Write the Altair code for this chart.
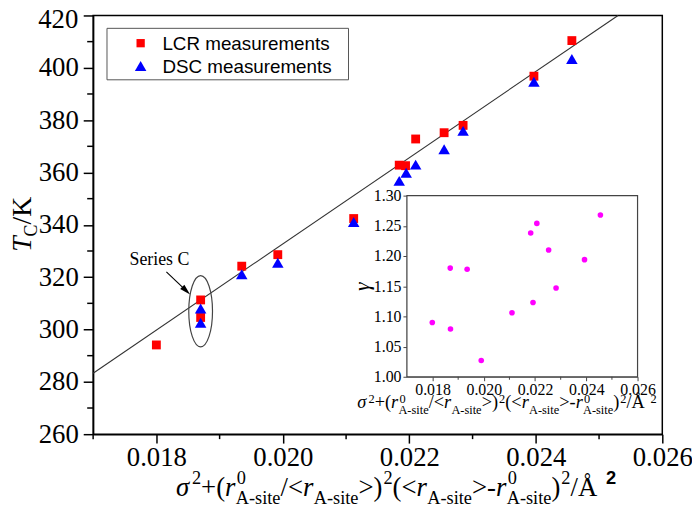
import altair as alt
import pandas as pd

# ---------------- data ----------------
lcr_x = [0.01800, 0.01870, 0.01870, 0.01935, 0.01992, 0.02112, 0.02184, 0.02194,
         0.02210, 0.02255, 0.02285, 0.02397, 0.02457]
lcr_t = [294.1, 311.3, 304.6, 324.2, 328.6, 342.4, 362.8, 362.6,
         372.8, 375.2, 378.0, 396.8, 410.4]
dsc_x = [0.01870, 0.01870, 0.01935, 0.01992, 0.02112, 0.02184, 0.02195,
         0.02210, 0.02255, 0.02285, 0.02397, 0.02457]
dsc_t = [308.0, 302.6, 321.1, 325.5, 341.1, 356.8, 359.9,
         363.0, 368.9, 375.9, 394.7, 403.4]
fit_x = [0.0170, 0.0253]
fit_t = [283.3, 420.0]
gamma_x = [0.01799, 0.01869, 0.01870, 0.01935, 0.01990, 0.02110, 0.02183,
           0.02192, 0.02207, 0.02253, 0.02282, 0.02393, 0.02455]
gamma_y = [1.090, 1.180, 1.079, 1.178, 1.027, 1.106, 1.238,
           1.123, 1.254, 1.210, 1.147, 1.194, 1.268]
seriesC_x = [0.0187]
seriesC_t = [307.0]

x_ticks = [0.018, 0.020, 0.022, 0.024, 0.026]
x_minor = [0.017, 0.019, 0.021, 0.023, 0.025]
y_ticks = [260, 280, 300, 320, 340, 360, 380, 400, 420]
y_minor = [270, 290, 310, 330, 350, 370, 390, 410]
g_ticks = [1.00, 1.05, 1.10, 1.15, 1.20, 1.25, 1.30]

# ---------------- layout (page pixels) ----------------
PAGE = 8
PL, PT = 94, 13
W, H = 575, 423
SERIF = "Liberation Serif"
SANS = "Liberation Sans"


def px(v):
    return v - PL


def py(v):
    return v - PT


one = alt.Data(values=[{}])

W_REG = {'0': 0.5, '2': 0.5, '+': 0.564, '(': 0.333, ')': 0.333, '/': 0.278, '<': 0.564,
         '>': 0.564, '-': 0.333, 'Å': 0.722, 'A': 0.722, 's': 0.389, 'i': 0.278,
         't': 0.278, 'e': 0.444, 'C': 0.667, 'K': 0.722, ' ': 0.25}
W_IT = {'σ': 0.56, 'r': 0.40, 'T': 0.556, 'γ': 0.45}


def wid(t, size, it=False):
    tab = W_IT if it else W_REG
    return sum(tab.get(c, W_REG.get(c, 0.5)) for c in t) * size


def txt(s, xp, yp, size, italic=False, font=SERIF, weight="normal", angle=0,
        align="left", baseline="alphabetic", color="black"):
    return alt.Chart(one).mark_text(
        text=s, font=font, fontSize=size, fontStyle="italic" if italic else "normal",
        fontWeight=weight, angle=angle, align=align, baseline=baseline, color=color
    ).encode(x=alt.value(px(xp)), y=alt.value(py(yp)))


def compose(spec, F, s, sub_dy, sup_dy, center, base, rotated=False):
    items = []
    pos = 0.0
    for seg in spec:
        k = seg[0]
        if k in ("rm", "it"):
            items.append((seg[1], pos, 0, F, k == "it", SERIF, "normal"))
            pos += wid(seg[1], F, k == "it")
        elif k == "sup":
            items.append((seg[1], pos + 1, sup_dy, s, False, SERIF, "normal"))
            pos += wid(seg[1], s) + 1
        elif k == "supb":
            items.append((seg[1], pos + 2, sup_dy, s, False, SANS, "bold"))
            pos += 0.556 * s + 2
        elif k == "sub":
            items.append((seg[1], pos, sub_dy, s, False, SERIF, "normal"))
            pos += wid(seg[1], s)
        elif k == "supsub":
            items.append((seg[1], pos + 1, sup_dy, s, False, SERIF, "normal"))
            items.append((seg[2], pos, sub_dy, s, False, SERIF, "normal"))
            pos += max(wid(seg[1], s) + 1, wid(seg[2], s))
    start = center - pos / 2 if not rotated else center + pos / 2
    layers = []
    for (t, p, dy, size, it, font, wt) in items:
        if rotated:
            layers.append(txt(t, base + dy, start - p, size, it, font, wt, angle=270))
        else:
            layers.append(txt(t, start + p, base + dy, size, it, font, wt))
    return layers


xtitle_spec = [("it", "σ"), ("sup", "2"), ("rm", "+("), ("it", "r"), ("supsub", "0", "A-site"),
               ("rm", "/<"), ("it", "r"), ("sub", "A-site"), ("rm", ">)"), ("sup", "2"),
               ("rm", "(<"), ("it", "r"), ("sub", "A-site"), ("rm", ">-"), ("it", "r"),
               ("supsub", "0", "A-site"), ("rm", ")"), ("sup", "2"), ("rm", " /Å"), ("supb", "2")]
inset_spec = [(k if k != "supb" else "sup",) + tuple(rest) for (k, *rest) in xtitle_spec]

# ---------------- main plot ----------------
xs = alt.Scale(domain=[0.017, 0.026], nice=False, zero=False)
ys = alt.Scale(domain=[260, 420], nice=False, zero=False)
x_axis = alt.Axis(values=x_ticks, format=".3f", title=None, labelFont=SERIF, labelFontSize=27,
                  labelColor="black", tickSize=9, tickWidth=1.5, tickColor="black",
                  domainColor="black", domainWidth=1.5, labelPadding=2, grid=False,
                  labelFlush=False, labelOverlap=False)
y_axis = alt.Axis(values=y_ticks, title=None, labelFont=SERIF, labelFontSize=27,
                  labelColor="black", tickSize=10, tickWidth=1.5, tickColor="black",
                  domainColor="black", domainWidth=1.5, labelPadding=5, grid=False,
                  labelFlush=False, labelOverlap=False,
                  labelExpr="datum.value == 420 ? '' : datum.label")
X = alt.X("x:Q", scale=xs, axis=x_axis)
Y = alt.Y("y:Q", scale=ys, axis=y_axis)

fit = alt.Chart(pd.DataFrame({"x": fit_x, "y": fit_t})).mark_line(
    color="#333333", strokeWidth=1.1).encode(x=X, y=Y)
minx = alt.Chart(pd.DataFrame({"x": x_minor})).mark_rule(color="black", strokeWidth=1.5).encode(
    x=X, y=alt.value(H), y2=alt.value(H + 5))
miny = alt.Chart(pd.DataFrame({"y": y_minor})).mark_rule(color="black", strokeWidth=1.5).encode(
    y=Y, x=alt.value(0), x2=alt.value(-6))
lcr = alt.Chart(pd.DataFrame({"x": lcr_x, "y": lcr_t})).mark_point(
    shape="square", filled=True, color="#ff0000", size=80, opacity=1).encode(x=X, y=Y)
dsc = alt.Chart(pd.DataFrame({"x": dsc_x, "y": dsc_t})).mark_point(
    shape="triangle-up", filled=True, color="#0000ff", size=135, opacity=1).encode(x=X, y=Y)

ELLIPSE = ("M0,-1C0.184,-1 0.333,-0.552 0.333,0C0.333,0.552 0.184,1 0,1"
           "C-0.184,1 -0.333,0.552 -0.333,0C-0.333,-0.552 -0.184,-1 0,-1Z")
ell = alt.Chart(pd.DataFrame({"x": seriesC_x, "y": seriesC_t})).mark_point(
    shape=ELLIPSE, size=5184, filled=False, color="#444444", strokeWidth=1.2, opacity=1
).encode(x=X, y=Y)

arrow_line = alt.Chart(one).mark_rule(color="black", strokeWidth=1.1).encode(
    x=alt.value(px(168)), y=alt.value(py(272)), x2=alt.value(px(189)), y2=alt.value(py(292)))
arrow_head = alt.Chart(one).mark_point(
    shape="M0,-1L0.55,1L-0.55,1Z", size=121, angle=134, filled=True, color="black", opacity=1
).encode(x=alt.value(px(188)), y=alt.value(py(291)))
seriesC_lbl = txt("Series C", 161, 265, 18, align="center")

top_lbl = txt("420", PL - 15, PT + 5, 27, align="right", baseline="middle")

leg_box = alt.Chart(one).mark_rect(fill="white", stroke="#555555", strokeWidth=1).encode(
    x=alt.value(px(108)), x2=alt.value(px(352)), y=alt.value(py(26)), y2=alt.value(py(78)))
leg_sq = alt.Chart(one).mark_point(shape="square", filled=True, color="#ff0000", size=70,
                                   opacity=1).encode(x=alt.value(px(142)), y=alt.value(py(41)))
leg_tr = alt.Chart(one).mark_point(shape="triangle-up", filled=True, color="#0000ff", size=135,
                                   opacity=1).encode(x=alt.value(px(142)), y=alt.value(py(64)))
leg_t1 = txt("LCR measurements", 164, 48, 19, font=SANS)
leg_t2 = txt("DSC measurements", 164, 71, 19, font=SANS)

xtitle = compose(xtitle_spec, 27, 18.5, 8.5, -12, 400, 498)
ytitle = compose([("it", "T"), ("sub", "C"), ("rm", "/K")], 28, 18, 6, -10, 224, 31, rotated=True)

main = alt.layer(fit, minx, miny, ell, lcr, dsc, arrow_line, arrow_head, seriesC_lbl, top_lbl,
                 leg_box, leg_sq, leg_tr, leg_t1, leg_t2, *xtitle, *ytitle)

# ---------------- inset ----------------
IL, IR, IT, IB = 411, 644, 195, 378
xs_in = alt.Scale(domain=[0.017, 0.026], range=[px(IL), px(IR)], nice=False, zero=False)
ys_in = alt.Scale(domain=[1.0, 1.3], range=[py(IB), py(IT)], nice=False, zero=False)
xi_axis = alt.Axis(orient="bottom", offset=-(H - py(IB)), values=x_ticks, format=".3f", title=None,
                   labelFont=SERIF, labelFontSize=16, labelColor="black", tickSize=4,
                   tickColor="#444444", domainColor="#444444", domainWidth=1.2, labelPadding=1,
                   grid=False, labelFlush=False, labelOverlap=False)
yi_axis = alt.Axis(orient="left", offset=-px(IL), values=g_ticks, format=".2f", title=None,
                   labelFont=SERIF, labelFontSize=16, labelColor="black", tickSize=4,
                   tickColor="#444444", domainColor="#444444", domainWidth=1.2, labelPadding=2,
                   grid=False, labelFlush=False, labelOverlap=False)
XI = alt.X("x:Q", scale=xs_in, axis=xi_axis)
YI = alt.Y("y:Q", scale=ys_in, axis=yi_axis)

in_frame = alt.Chart(pd.DataFrame({"x": [0.017], "x2": [0.026], "y": [1.0], "y2": [1.3]})).mark_rect(
    fill="white", stroke="#444444", strokeWidth=1.2).encode(x=XI, x2="x2:Q", y=YI, y2="y2:Q")
in_minor = alt.Chart(pd.DataFrame({"x": [0.019, 0.021, 0.023, 0.025]})).mark_rule(
    color="#444444", strokeWidth=1).encode(x=XI, y=alt.value(py(IB)), y2=alt.value(py(IB) + 3))
gam = alt.Chart(pd.DataFrame({"x": gamma_x, "y": gamma_y})).mark_circle(
    color="#ff00ff", size=32, opacity=1).encode(x=XI, y=YI)

in_xtitle = compose(inset_spec, 18.5, 12.5, 6, -6, 512, 410)
gamma_lbl = txt("γ", 373, 287, 22, italic=True, angle=270, align="center")

inset = alt.layer(in_frame, in_minor, gam, gamma_lbl, *in_xtitle)

chart = alt.layer(main, inset).resolve_scale(x="independent", y="independent").properties(
    width=W, height=H,
    autosize=alt.AutoSizeParams(type="none"),
    padding={"left": PL - PAGE, "top": PT - PAGE, "right": 30, "bottom": 513 - PAGE - H - (PT - PAGE) - PAGE},
).configure_view(stroke="black", strokeWidth=1.5).configure_axis(labelFont=SERIF)

chart.save("out.html", embed_options={"renderer": "svg", "actions": False})
